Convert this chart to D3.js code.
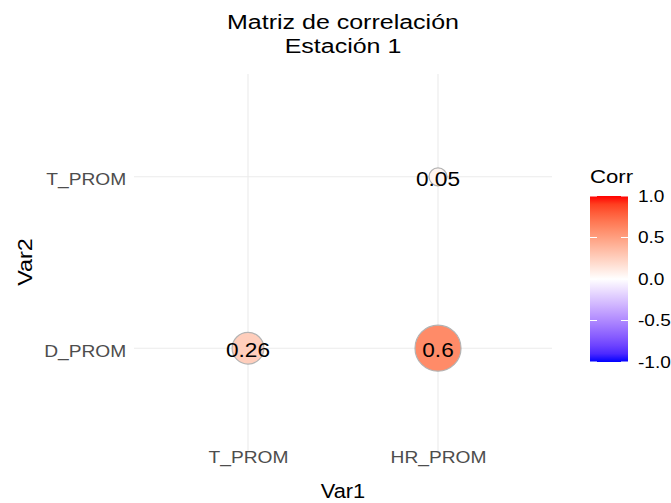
<!DOCTYPE html>
<html><head><meta charset="utf-8">
<script src="https://cdn.jsdelivr.net/npm/d3@7"></script>
<style>body{margin:0;background:#fff}text{font-family:"Liberation Sans",Arial,sans-serif}</style>
</head><body>
<svg id="c" width="671" height="503"></svg>
<script>
const var1 = ["T_PROM", "HR_PROM"];
const var2 = ["D_PROM", "T_PROM"];
const cellVar1 = ["T_PROM", "HR_PROM", "HR_PROM"];
const cellVar2 = ["D_PROM", "D_PROM", "T_PROM"];
const cellCorr = [0.26, 0.6, 0.05];
const legendTicks = [1.0, 0.5, 0.0, -0.5, -1.0];
const titleLines = ["Matriz de correlación", "Estación 1"];

const data = cellCorr.map((v,i)=>({x:cellVar1[i], y:cellVar2[i], v}));
const svg = d3.select("#c");
const panel = {l:134, r:552, t:74, b:451};

const x = d3.scalePoint().domain(var1).range([panel.l, panel.r]).padding(0.6);
const y = d3.scalePoint().domain(var2).range([panel.b, panel.t]).padding(0.6);
const absv = data.map(d=>Math.abs(d.v));
const area = d3.scaleLinear().domain(d3.extent(absv)).range([9*9, 23*23]);
const rad = v => Math.sqrt(area(Math.abs(v)));
const color = d3.scaleLinear().domain([-1,0,1]).range(["blue","white","red"]).interpolate(d3.interpolateLab);

// helper: stretched text
function stext(parent, tx, ty, txt, size, sx, anchor, rot) {
  const g = parent.append("g").attr("transform", `translate(${tx},${ty})` + (rot?` rotate(${rot})`:"") + ` scale(${sx},1)`);
  return g.append("text").attr("text-anchor", anchor||"middle").attr("font-size", size).attr("fill","#000").text(txt);
}

// grid
const g = svg.append("g");
g.selectAll(".vg").data(var1).join("line").attr("x1",d=>x(d)).attr("x2",d=>x(d))
 .attr("y1",panel.t).attr("y2",panel.b).attr("stroke","#EBEBEB").attr("stroke-width",1.1);
g.selectAll(".hg").data(var2).join("line").attr("y1",d=>y(d)).attr("y2",d=>y(d))
 .attr("x1",panel.l).attr("x2",panel.r).attr("stroke","#EBEBEB").attr("stroke-width",1.1);

// axes
const xa = svg.append("g").attr("transform",`translate(0,${panel.b})`)
  .call(d3.axisBottom(x).tickSize(0).tickPadding(0));
xa.select(".domain").remove();
xa.selectAll("text").attr("font-size",16).attr("fill","#4D4D4D").attr("dy",null).attr("y",12)
  .attr("transform","scale(1.2,1)").attr("font-family","Liberation Sans, Arial, sans-serif");
const ya = svg.append("g").attr("transform",`translate(${panel.l},0)`)
  .call(d3.axisLeft(y).tickSize(0).tickPadding(7));
ya.select(".domain").remove();
ya.selectAll("text").attr("font-size",16).attr("fill","#4D4D4D").attr("x",-6.5).attr("dy","0.5em")
  .attr("transform","scale(1.2,1)").attr("font-family","Liberation Sans, Arial, sans-serif");

// circles
svg.selectAll(".pt").data(data).join("circle")
 .attr("cx",d=>x(d.x)).attr("cy",d=>y(d.y)).attr("r",d=>rad(d.v))
 .attr("fill",d=>color(d.v)).attr("stroke","#B3B3B3").attr("stroke-width",1.2);
const lbl = svg.append("g");
data.forEach(d=>{
  stext(lbl, x(d.x), y(d.y), String(d.v), 19.5, 1.16).attr("dy","0.45em");
});

// titles
titleLines.forEach((t,i)=>stext(svg, (panel.l+panel.r)/2, 29.3+i*24, t, 20, 1.25));
stext(svg, (panel.l+panel.r)/2, 498, "Var1", 19.5, 1.12);
stext(svg, 32, 262, "Var2", 19.5, 1.2, "middle", -90);

// legend
const lx=590, lw=38, lt=196, lb=362;
const ly = d3.scaleLinear().domain([-1,1]).range([lb, lt]);
const defs = svg.append("defs");
const grad = defs.append("linearGradient").attr("id","lg").attr("x1",0).attr("x2",0).attr("y1",1).attr("y2",0);
d3.range(0,1.0001,0.05).forEach(t=>grad.append("stop").attr("offset",t).attr("stop-color",color(-1+2*t)));
svg.append("rect").attr("x",lx).attr("y",lt).attr("width",lw).attr("height",lb-lt).attr("fill","url(#lg)");
const lg = svg.append("g");
legendTicks.forEach(v=>{
  lg.append("line").attr("x1",lx).attr("x2",lx+7).attr("y1",ly(v)).attr("y2",ly(v)).attr("stroke","#fff").attr("stroke-width",1);
  lg.append("line").attr("x1",lx+lw-7).attr("x2",lx+lw).attr("y1",ly(v)).attr("y2",ly(v)).attr("stroke","#fff").attr("stroke-width",1);
  stext(lg, lx+lw+10, ly(v), d3.format(".1f")(v).replace("−","-"), 16, 1.19, "start").attr("dy","0.36em");
});
stext(svg, lx, 183, "Corr", 18.6, 1.19, "start");
</script>
</body></html>
